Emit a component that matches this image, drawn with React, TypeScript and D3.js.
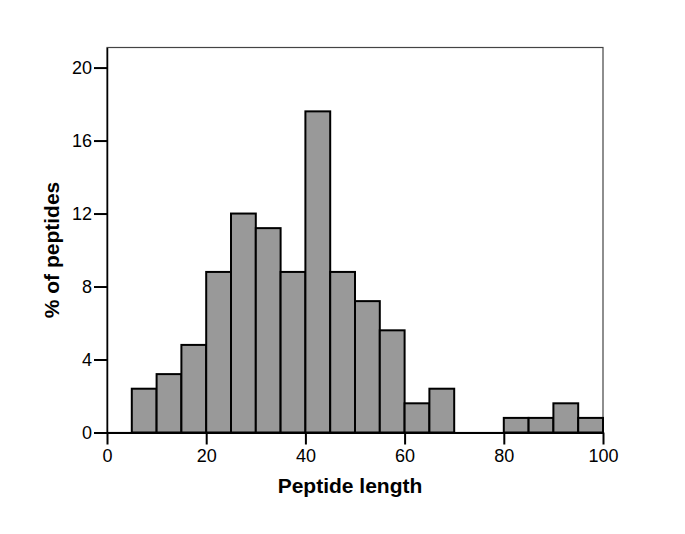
import React, { useEffect, useRef } from "react"
import * as d3 from "d3"

// histogram bins (peptide length, 5 aa wide) and % of peptides
const binStarts = [5, 10, 15, 20, 25, 30, 35, 40, 45, 50, 55, 60, 65, 70, 75, 80, 85, 90, 95]
const percents = [2.4, 3.2, 4.8, 8.8, 12.0, 11.2, 8.8, 17.6, 8.8, 7.2, 5.6, 1.6, 2.4, 0, 0, 0.8, 0.8, 1.6, 0.8]
const xTicks = [0, 20, 40, 60, 80, 100]
const yTicks = [0, 4, 8, 12, 16, 20]
const binWidth = 5

export default function App() {
  const ref = useRef<SVGSVGElement>(null)

  useEffect(() => {
    const svg = d3.select(ref.current)
    svg.selectAll("*").remove()

    const left = 107, right = 603, top = 47.5, bottom = 432.5
    const font = "'Liberation Sans', Arial, sans-serif"

    const x = d3.scaleLinear().domain([0, 100]).range([left, right])
    const y = d3.scaleLinear().domain([0, 21.1]).range([bottom, top])

    // plot frame
    svg.append("rect")
      .attr("x", left).attr("y", top)
      .attr("width", right - left).attr("height", bottom - top)
      .attr("fill", "none").attr("stroke", "#444").attr("stroke-width", 1.2)

    const bars = binStarts.map((s, i) => ({ s, v: percents[i] }))

    svg.append("g").selectAll("rect")
      .data(bars.filter(d => d.v > 0))
      .enter()
      .append("rect")
      .attr("x", d => x(d.s))
      .attr("y", d => y(d.v))
      .attr("width", d => x(d.s + binWidth) - x(d.s))
      .attr("height", d => y(0) - y(d.v))
      .attr("fill", "#999999")
      .attr("stroke", "#000")
      .attr("stroke-width", 2)

    // bottom axis
    const xAxis = svg.append("g")
      .attr("transform", `translate(0,${bottom})`)
      .call(d3.axisBottom(x).tickValues(xTicks).tickSize(12).tickPadding(5).tickSizeOuter(0))
    xAxis.select(".domain").attr("stroke", "#000").attr("stroke-width", 2)
    xAxis.selectAll(".tick line").attr("stroke", "#000").attr("stroke-width", 2)
    xAxis.selectAll("text").attr("font-family", font).attr("font-size", 18).attr("fill", "#000")

    // left axis
    const yAxis = svg.append("g")
      .attr("transform", `translate(${left},0)`)
      .call(d3.axisLeft(y).tickValues(yTicks).tickSize(13).tickPadding(2).tickSizeOuter(0))
    yAxis.select(".domain").attr("stroke", "#000").attr("stroke-width", 1.5)
    yAxis.selectAll(".tick line").attr("stroke", "#000").attr("stroke-width", 2)
    yAxis.selectAll("text").attr("font-family", font).attr("font-size", 18).attr("fill", "#000")

    svg.append("text")
      .attr("x", (left + right) / 2 - 5)
      .attr("y", 493)
      .attr("text-anchor", "middle")
      .attr("font-family", font)
      .attr("font-weight", "bold")
      .attr("font-size", 21)
      .text("Peptide length")

    svg.append("text")
      .attr("transform", `translate(59,${(top + bottom) / 2 + 10}) rotate(-90)`)
      .attr("text-anchor", "middle")
      .attr("font-family", font)
      .attr("font-weight", "bold")
      .attr("font-size", 21)
      .text("% of peptides")
  }, [])

  return (
    <svg ref={ref} width={685} height={534}
      style={{ position: "absolute", left: 0, top: 0, background: "#fff" }} />
  )
}
